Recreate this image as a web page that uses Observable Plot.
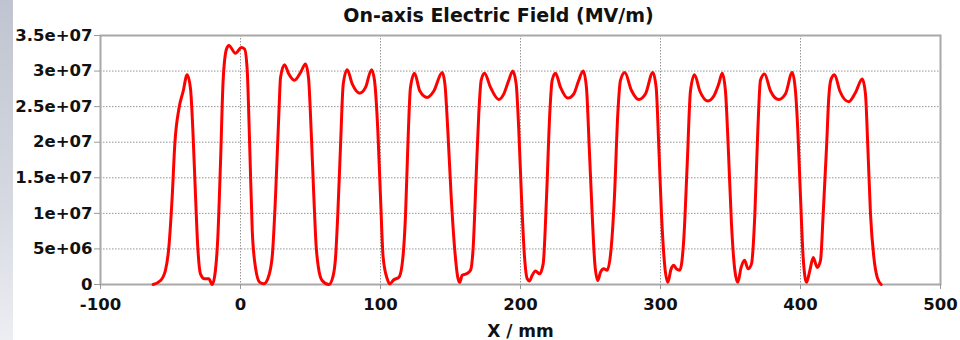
<!DOCTYPE html>
<html>
<head>
<meta charset="utf-8">
<script src="https://cdn.jsdelivr.net/npm/d3@7"></script>
<script src="https://cdn.jsdelivr.net/npm/@observablehq/plot@0.6"></script>
<style>
  html, body { margin: 0; padding: 0; background: #ffffff; }
  #wrap { position: relative; width: 960px; height: 340px; overflow: hidden; }
  #strip { position: absolute; left: 0; top: 0; width: 13px; height: 340px;
           background: linear-gradient(to bottom, #bfc4d0, #d6d9e1 60%, #eceef2); }
  #chart { position: absolute; left: 0; top: 0; }
  svg { font-family: "DejaVu Sans", Verdana, sans-serif; }
</style>
</head>
<body>
<div id="wrap"><div id="strip"></div><div id="chart"></div></div>
<script>
const title = "On-axis Electric Field (MV/m)";
const xLabel = "X / mm";
const xTicks = [-100, 0, 100, 200, 300, 400, 500];
const xTickLabels = ["-100", "0", "100", "200", "300", "400", "500"];
const yTicks = [0, 5e6, 10e6, 15e6, 20e6, 25e6, 30e6, 35e6];
const yTickLabels = ["0", "5e+06", "1e+07", "1.5e+07", "2e+07", "2.5e+07", "3e+07", "3.5e+07"];

// position along axis (mm)
const xMm = [
  -62.4, -57.1, -53.6, -51.2, -48.8, -46.9, -44.0, -40.9, -38.1, -35.7, -34.0, -32.1, -30.5, -28.6, -25.7, -22.6,
  -20.2, -17.9, -16.2, -14.3, -12.4, -10.0, -8.3, -3.6, 0.7, 2.9, 4.8, 6.6, 8.4, 10.7, 13.8, 16.7,
  19.5, 22.6, 25.0, 27.4, 28.6, 31.4, 34.5, 38.6, 42.9, 46.4, 48.6, 50.5, 52.4, 54.0, 55.5, 58.3,
  63.1, 65.9, 67.9, 69.5, 71.4, 73.4, 76.2, 79.8, 85.2, 89.3, 93.6, 95.7, 98.1, 100.0, 101.9, 104.8,
  106.6, 109.5, 113.1, 115.5, 117.9, 119.5, 121.4, 124.3, 128.1, 133.4, 138.1, 144.1, 146.0, 148.1, 150.5, 152.9,
  155.2, 156.6, 158.3, 161.4, 164.3, 166.2, 168.2, 170.2, 171.9, 174.3, 178.6, 184.5, 188.1, 191.6, 194.5, 196.9,
  198.8, 200.7, 202.9, 204.8, 206.4, 208.4, 210.7, 213.6, 216.2, 218.6, 220.9, 222.6, 225.0, 228.6, 233.8, 238.1,
  241.6, 244.8, 247.1, 249.1, 251.2, 253.1, 255.2, 257.1, 259.5, 261.9, 264.8, 267.1, 269.5, 271.4, 274.5, 279.2,
  284.5, 289.3, 294.5, 296.9, 298.8, 300.7, 302.9, 305.2, 307.6, 309.5, 311.4, 313.8, 316.7, 319.1, 321.4, 324.3,
  328.1, 333.8, 338.1, 341.6, 344.1, 346.4, 348.4, 350.7, 353.1, 355.2, 357.6, 360.0, 362.6, 365.0, 367.4, 369.5,
  371.4, 374.3, 378.6, 384.5, 389.3, 394.1, 396.4, 398.1, 400.0, 401.9, 404.3, 406.7, 409.1, 411.9, 414.3, 416.2,
  418.6, 420.2, 421.9, 424.3, 428.1, 434.5, 439.3, 444.1, 446.4, 448.1, 450.0, 452.4, 454.8, 457.6
];
// on-axis field (V/m)
const eField = [
  0, 0.56e6, 2.0e6, 5.2e6, 12.3e6, 19.8e6, 24.7e6, 27.2e6, 29.5e6, 27.5e6, 21.6e6, 12.3e6, 5.2e6, 1.5e6, 0.8e6, 0.8e6,
  0, 2.0e6, 6.6e6, 17.0e6, 28.7e6, 33.1e6, 33.6e6, 32.5e6, 33.3e6, 33.1e6, 30.1e6, 19.3e6, 7.6e6, 2.4e6, 0.3e6, 0.1e6,
  0.8e6, 3.8e6, 12.3e6, 24.0e6, 29.1e6, 30.9e6, 29.6e6, 28.7e6, 29.8e6, 31.0e6, 29.0e6, 21.5e6, 12.3e6, 5.5e6, 2.6e6, 0.56e6,
  0, 1.0e6, 3.8e6, 9.9e6, 19.3e6, 28.2e6, 30.2e6, 28.2e6, 26.9e6, 27.7e6, 30.2e6, 28.7e6, 21.6e6, 12.3e6, 3.8e6, 0.8e6,
  0.1e6, 0.66e6, 1.0e6, 2.9e6, 9.9e6, 19.3e6, 27.7e6, 29.7e6, 27.2e6, 26.3e6, 27.2e6, 29.8e6, 28.2e6, 21.6e6, 12.3e6, 5.2e6,
  1.0e6, 0.3e6, 1.3e6, 1.5e6, 2.0e6, 5.2e6, 14.6e6, 24.0e6, 28.7e6, 29.7e6, 27.7e6, 26.0e6, 26.8e6, 28.7e6, 30.0e6, 28.2e6,
  21.6e6, 12.3e6, 3.8e6, 0.8e6, 0.5e6, 1.3e6, 1.9e6, 1.5e6, 2.9e6, 12.3e6, 24.0e6, 28.7e6, 29.7e6, 27.7e6, 26.2e6, 26.8e6,
  28.7e6, 30.0e6, 27.7e6, 19.3e6, 9.9e6, 2.9e6, 0.56e6, 1.7e6, 2.2e6, 2.0e6, 5.2e6, 12.3e6, 24.0e6, 28.7e6, 29.8e6, 27.3e6,
  26.0e6, 26.8e6, 29.8e6, 27.7e6, 19.3e6, 9.9e6, 2.9e6, 0.3e6, 2.2e6, 2.7e6, 2.2e6, 2.0e6, 6.6e6, 17.0e6, 27.2e6, 29.5e6,
  27.2e6, 25.8e6, 26.5e6, 28.2e6, 29.7e6, 27.2e6, 19.3e6, 8.5e6, 2.0e6, 0.3e6, 2.4e6, 3.4e6, 2.2e6, 2.9e6, 9.9e6, 21.6e6,
  28.7e6, 29.6e6, 27.2e6, 26.0e6, 26.8e6, 29.8e6, 27.2e6, 21.6e6, 12.3e6, 3.8e6, 0.3e6, 2.0e6, 3.8e6, 2.4e6, 3.4e6, 9.9e6,
  19.3e6, 26.3e6, 28.9e6, 29.5e6, 27.2e6, 25.7e6, 27.0e6, 28.9e6, 26.8e6, 19.3e6, 9.9e6, 3.8e6, 1.0e6, 0
];

const data = xMm.map((x, i) => ({x, e: eField[i]}));

const chart = Plot.plot({
  width: 960,
  height: 340,
  marginLeft: 100,
  marginRight: 20,
  marginTop: 35,
  marginBottom: 56,
  style: {background: "transparent", fontFamily: "'DejaVu Sans', Verdana, sans-serif"},
  x: {domain: [-100, 500]},
  y: {domain: [0, 35e6]},
  marks: [
    Plot.gridX(xTicks, {stroke: "#8a8a8a", strokeOpacity: 0.9, strokeDasharray: "1.5,1.5", strokeWidth: 1}),
    Plot.gridY(yTicks, {stroke: "#8a8a8a", strokeOpacity: 0.9, strokeDasharray: "1.5,1.5", strokeWidth: 1}),
    Plot.frame({stroke: "#a8a8a8", strokeWidth: 2}),
    Plot.axisX(xTicks, {
      label: null, tickSize: 5, tickPadding: 9, stroke: "#999",
      tickFormat: (d, i) => xTickLabels[i],
      fontSize: 16.5, fontWeight: "bold", fill: "#111"
    }),
    Plot.axisY(yTicks, {
      label: null, tickSize: 6, tickPadding: 2, stroke: "#999",
      tickFormat: (d, i) => yTickLabels[i],
      fontSize: 16.5, fontWeight: "bold", fill: "#111"
    }),
    Plot.line(data, {x: "x", y: "e", stroke: "#ff0000", strokeWidth: 3, curve: "monotone-x"}),
    Plot.text([title], {
      frameAnchor: "top", dx: -22, dy: -14, lineAnchor: "bottom",
      fontSize: 19, fontWeight: "bold", fill: "#111", text: d => d
    }),
    Plot.text([xLabel], {
      frameAnchor: "bottom", dy: 47, lineAnchor: "middle",
      fontSize: 17, fontWeight: "bold", fill: "#111", text: d => d
    })
  ]
});
document.getElementById("chart").appendChild(chart);
</script>
</body>
</html>
